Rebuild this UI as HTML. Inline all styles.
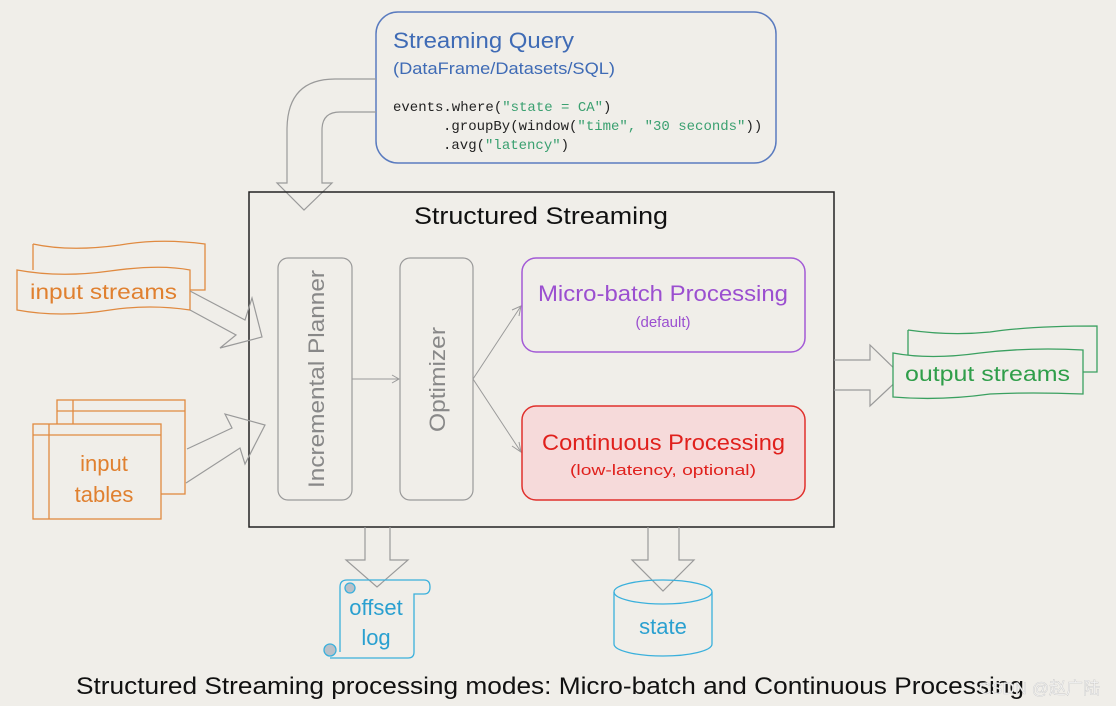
<!DOCTYPE html>
<html><head><meta charset="utf-8"><style>
html,body{margin:0;padding:0;background:#f0eee9;}
svg{display:block;font-family:"Liberation Sans","Noto Sans CJK SC",sans-serif;}
.m{font-family:"Liberation Mono",monospace;font-size:14px;}
</style></head><body>
<svg width="1116" height="706" viewBox="0 0 1116 706">
<rect width="1116" height="706" fill="#f0eee9"/>
<!-- query box -->
<rect x="376" y="12" width="400" height="151" rx="22" fill="none" stroke="#5a7bbf" stroke-width="1.5"/>
<text x="393" y="48" font-size="22" fill="#3f6bb5" textLength="181" lengthAdjust="spacingAndGlyphs">Streaming Query</text>
<text x="393" y="74" font-size="17" fill="#3f6bb5" textLength="222" lengthAdjust="spacingAndGlyphs">(DataFrame/Datasets/SQL)</text>
<text class="m" x="393" y="111" fill="#222">events.where(<tspan fill="#3aa070">"state = CA"</tspan>)</text>
<text class="m" x="443" y="130" fill="#222">.groupBy(window(<tspan fill="#3aa070">"time", "30 seconds"</tspan>))</text>
<text class="m" x="443" y="149" fill="#222">.avg(<tspan fill="#3aa070">"latency"</tspan>)</text>
<!-- curved arrow -->
<path d="M376 79 L335 79 Q287 79 287 130 L287 183 L277 183 L304 210 L332 183 L322 183 L322 130 Q322 112 340 112 L376 112" fill="none" stroke="#9a9a9a" stroke-width="1.2"/>
<!-- main box -->
<rect x="249" y="192" width="585" height="335" fill="none" stroke="#222" stroke-width="1.5"/>
<text x="414" y="224" font-size="24" fill="#111" textLength="254" lengthAdjust="spacingAndGlyphs">Structured Streaming</text>
<rect x="278" y="258" width="74" height="242" rx="10" fill="none" stroke="#9a9a9a" stroke-width="1.2"/>
<text transform="translate(324,488) rotate(-90)" font-size="22" fill="#888" textLength="218" lengthAdjust="spacingAndGlyphs">Incremental Planner</text>
<rect x="400" y="258" width="73" height="242" rx="10" fill="none" stroke="#9a9a9a" stroke-width="1.2"/>
<text transform="translate(445,432) rotate(-90)" font-size="22" fill="#888" textLength="105" lengthAdjust="spacingAndGlyphs">Optimizer</text>
<line x1="352" y1="379" x2="398" y2="379" stroke="#9a9a9a"/>
<path d="M392 375 L399 379 L392 383" fill="none" stroke="#9a9a9a"/>
<path d="M473 379 L521 306 M473 379 L521 452" stroke="#9a9a9a" fill="none"/>
<path d="M512 310 L521 306 L519 316 M512 446 L521 452 L519 442" stroke="#9a9a9a" fill="none"/>
<rect x="522" y="258" width="283" height="94" rx="14" fill="none" stroke="#a35ad6" stroke-width="1.5"/>
<text x="538" y="301" font-size="22" fill="#9b4fd0" textLength="250" lengthAdjust="spacingAndGlyphs">Micro-batch Processing</text>
<text x="663" y="327" font-size="15" text-anchor="middle" fill="#9b4fd0">(default)</text>
<rect x="522" y="406" width="283" height="94" rx="14" fill="#f6dada" stroke="#e0302c" stroke-width="1.5"/>
<text x="542" y="450" font-size="22" fill="#e0201c" textLength="243" lengthAdjust="spacingAndGlyphs">Continuous Processing</text>
<text x="570" y="475" font-size="15" fill="#e0201c" textLength="186" lengthAdjust="spacingAndGlyphs">(low-latency, optional)</text>
<!-- input streams -->
<g fill="#f0eee9" stroke="#e08a40" stroke-width="1.3">
<path d="M33 244 Q70 252 120 245 Q160 238 205 244 L205 290 L190 290"/>
<path d="M17 270 Q60 278 110 271 Q160 264 190 270 L190 310 Q150 304 110 310 Q60 318 17 310 Z"/>
<path d="M33 244 L33 270" fill="none"/>
</g>
<text x="30" y="299" font-size="21" fill="#e0802f" textLength="147" lengthAdjust="spacingAndGlyphs">input streams</text>
<path d="M190 291 L245 320 L252 298 L262 337 L220 348 L236 335 L190 310" fill="none" stroke="#9a9a9a" stroke-width="1.2"/>
<!-- input tables -->
<g fill="#f0eee9" stroke="#e08a40" stroke-width="1.3">
<rect x="57" y="400" width="128" height="94"/>
<line x1="57" y1="411" x2="185" y2="411"/><line x1="73" y1="400" x2="73" y2="424"/>
<rect x="33" y="424" width="128" height="95"/>
<line x1="33" y1="435" x2="161" y2="435"/><line x1="49" y1="424" x2="49" y2="519"/>
</g>
<text x="104" y="471" font-size="22" text-anchor="middle" fill="#e0802f">input</text>
<text x="104" y="502" font-size="22" text-anchor="middle" fill="#e0802f">tables</text>
<path d="M187 449 L232 428 L225 414 L265 425 L245 464 L240 448 L186 483" fill="none" stroke="#9a9a9a" stroke-width="1.2"/>
<!-- output arrow -->
<path d="M834 360 L870 360 L870 345 L902 376 L870 406 L870 390 L834 390" fill="none" stroke="#9a9a9a" stroke-width="1.2"/>
<!-- output streams -->
<g fill="#f0eee9" stroke="#3aa060" stroke-width="1.3">
<path d="M908 330 L908 355 M908 330 Q950 336 990 332 Q1030 326 1097 326 L1097 372 L1083 372"/>
<path d="M893 353 Q930 360 980 353 Q1030 347 1083 350 L1083 394 Q1030 392 990 394 Q940 401 893 397 Z"/>
</g>
<text x="905" y="381" font-size="21" fill="#2f9e4a" textLength="165" lengthAdjust="spacingAndGlyphs">output streams</text>
<!-- down arrows -->
<path d="M365 527 L365 560 L346 560 L377 587 L408 560 L390 560 L390 527" fill="none" stroke="#9a9a9a" stroke-width="1.2"/>
<path d="M648 527 L648 560 L632 560 L663 591 L694 560 L679 560 L679 527" fill="none" stroke="#9a9a9a" stroke-width="1.2"/>
<!-- offset log -->
<g fill="none" stroke="#3ab0dc" stroke-width="1.3">
<path d="M347 580 L424 580 Q430 580 430 587 Q430 594 424 594 L414 594 L414 652 Q414 658 408 658 L330 658"/>
<path d="M347 580 Q340 580 340 587 L340 652"/>
<circle cx="350" cy="588" r="5" fill="#b9c0c8"/>
<circle cx="330" cy="650" r="6" fill="#b9c0c8"/>
</g>
<text x="376" y="615" font-size="22" text-anchor="middle" fill="#2aa0d0">offset</text>
<text x="376" y="645" font-size="22" text-anchor="middle" fill="#2aa0d0">log</text>
<!-- state -->
<g fill="none" stroke="#3ab0dc" stroke-width="1.3">
<ellipse cx="663" cy="592" rx="49" ry="12"/>
<path d="M614 592 L614 644 A49 12 0 0 0 712 644 L712 592"/>
</g>
<text x="663" y="634" font-size="22" text-anchor="middle" fill="#2aa0d0">state</text>
<!-- caption -->
<text x="76" y="694" font-size="24" fill="#111" textLength="948" lengthAdjust="spacingAndGlyphs">Structured Streaming processing modes: Micro-batch and Continuous Processing</text>
<text x="1100" y="694" font-size="17" text-anchor="end" fill="#f4f4f4" stroke="#bbb" stroke-width="0.3">CSDN @赵广陆</text>
</svg>
</body></html>
